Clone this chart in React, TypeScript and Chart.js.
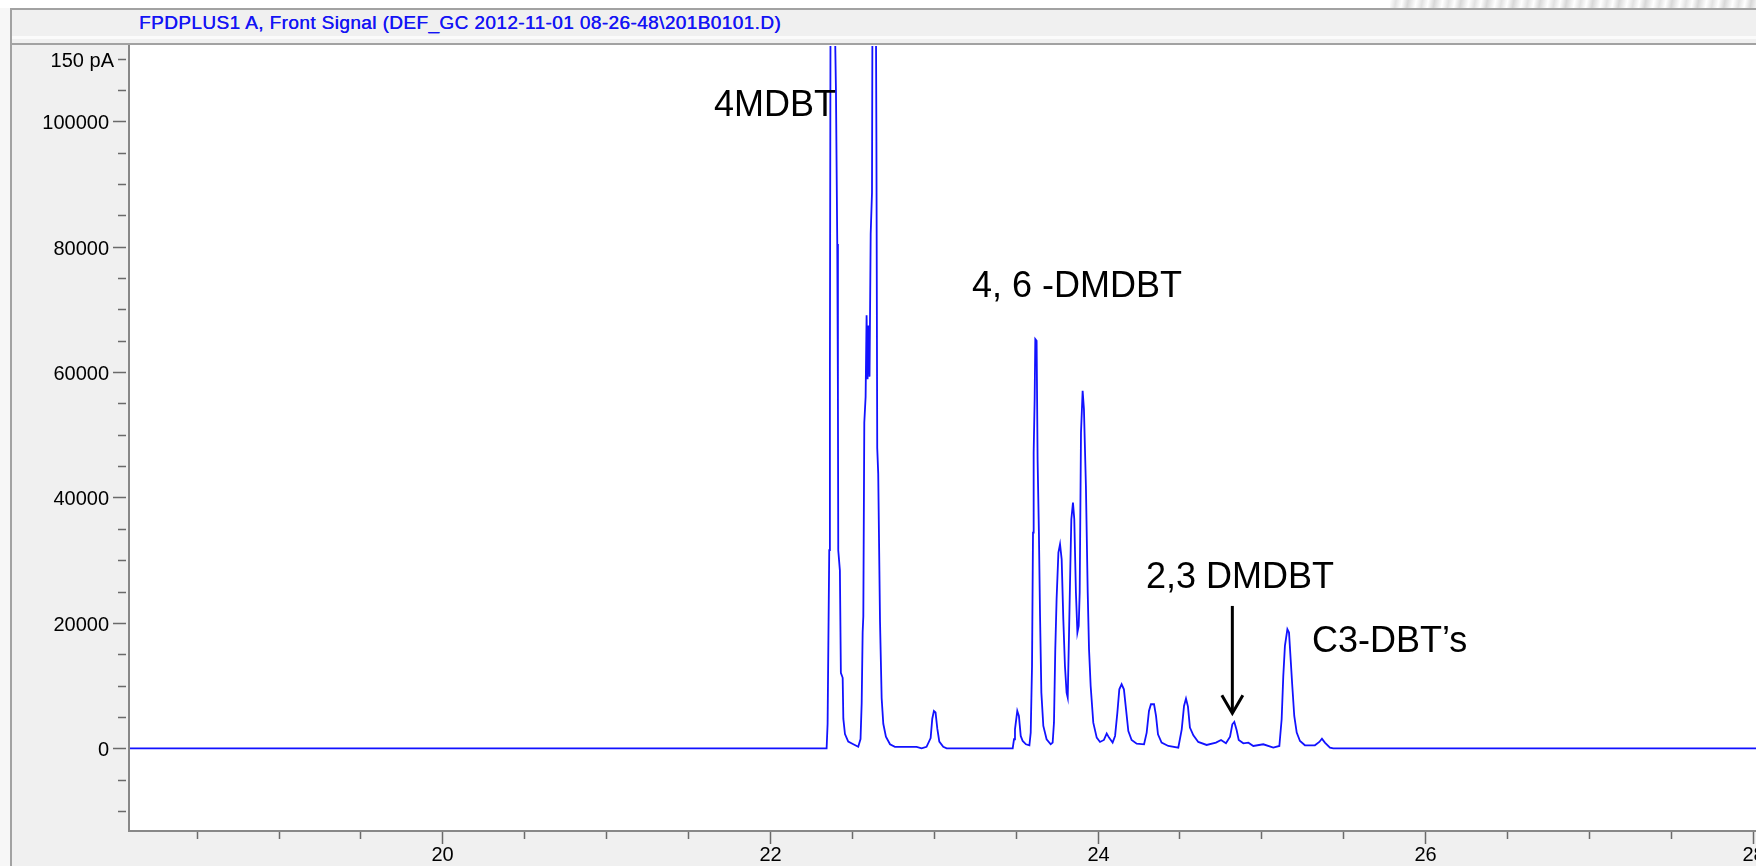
import React, { useEffect, useRef } from "react";
import { Chart, registerables } from "chart.js";

Chart.register(...registerables);

// Retention time (min) and detector signal
const retentionTimes = [
  18.0, 22.346, 22.352, 22.362, 22.366, 22.37, 22.383, 22.394, 22.403, 22.411,
  22.415, 22.417, 22.427, 22.433, 22.444, 22.448, 22.458, 22.478, 22.509, 22.539,
  22.553, 22.56, 22.566, 22.57, 22.576, 22.584, 22.59, 22.596, 22.602, 22.608,
  22.615, 22.623, 22.627, 22.636, 22.645, 22.65, 22.655, 22.661, 22.672, 22.682,
  22.692, 22.708, 22.733, 22.763, 22.895, 22.926, 22.956, 22.981, 22.991, 23.001,
  23.011, 23.022, 23.034, 23.058, 23.079, 23.482, 23.49, 23.496, 23.51, 23.52,
  23.531, 23.543, 23.563, 23.584, 23.592, 23.6, 23.606, 23.61, 23.616, 23.62,
  23.628, 23.634, 23.642, 23.649, 23.657, 23.669, 23.689, 23.714, 23.726, 23.734,
  23.742, 23.75, 23.761, 23.771, 23.781, 23.791, 23.801, 23.811, 23.818, 23.826,
  23.834, 23.84, 23.85, 23.858, 23.868, 23.877, 23.885, 23.891, 23.899, 23.909,
  23.917, 23.929, 23.94, 23.948, 23.958, 23.974, 23.995, 24.015, 24.039, 24.056,
  24.07, 24.092, 24.107, 24.121, 24.133, 24.147, 24.161, 24.174, 24.188, 24.208,
  24.239, 24.284, 24.3, 24.314, 24.326, 24.345, 24.357, 24.369, 24.391, 24.432,
  24.493, 24.514, 24.528, 24.54, 24.552, 24.564, 24.585, 24.615, 24.666, 24.723,
  24.754, 24.784, 24.809, 24.823, 24.835, 24.849, 24.862, 24.89, 24.921, 24.951,
  25.012, 25.073, 25.11, 25.124, 25.134, 25.144, 25.159, 25.169, 25.179, 25.189,
  25.201, 25.216, 25.236, 25.266, 25.327, 25.354, 25.37, 25.388, 25.419, 25.439,
  28.1,
];
const signalValues = [
  0, 0, 3910, 31590, 60090, 120000, 300000, 120000, 104870, 80440,
  56020, 31590, 28330, 12050, 11240, 4720, 2280, 1060, 650, 240,
  1470, 7160, 18560, 21010, 51950, 56020, 69040, 58870, 67420, 59270,
  82070, 88590, 130000, 160000, 130000, 96730, 47870, 43800, 20190, 7980,
  3910, 1870, 650, 240, 240, 0, 240, 1630, 4720, 5940,
  5700, 3090, 1060, 240, 0, 0, 1440, 3030, 5960, 5160,
  1970, 1170, 640, 480, 2500, 13130, 34400, 47160, 55670, 65240,
  64970, 46100, 34400, 21110, 8880, 3560, 1440, 640, 900, 4090,
  15790, 23770, 31210, 32540, 30150, 20580, 13130, 8880, 8080, 18450,
  29080, 36530, 39190, 36530, 24830, 18450, 19510, 24830, 50350, 57000,
  54070, 41840, 24830, 15790, 9940, 4090, 1700, 1010, 1330, 2340,
  1700, 900, 1970, 5690, 9410, 10210, 9410, 6220, 2760, 1330,
  740, 640, 2500, 5960, 7020, 7020, 5160, 2230, 900, 370,
  110, 3030, 6750, 7920, 6650, 3300, 2070, 1010, 530, 900,
  1330, 800, 1860, 3830, 4200, 2920, 1330, 800, 900, 370,
  640, 110, 370, 4630, 11540, 16320, 18980, 18450, 14200, 9940,
  5160, 2500, 1170, 480, 480, 1010, 1540, 900, 110, 0,
  0,
];

const xTickValues = [18.5, 19, 19.5, 20, 20.5, 21, 21.5, 22, 22.5, 23, 23.5, 24, 24.5, 25, 25.5, 26, 26.5, 27, 27.5, 28];
const xMajorTicks = [20, 22, 24, 26, 28];
const xTickLabels = ["20", "22", "24", "26", "28"];

const yTickValues = [-10000, -5000, 0, 5000, 10000, 15000, 20000, 25000, 30000, 35000, 40000, 45000, 50000, 55000, 60000, 65000, 70000, 75000, 80000, 85000, 90000, 95000, 100000, 105000, 110000];
const yMajorTicks = [0, 20000, 40000, 60000, 80000, 100000];
const yTickLabels = ["0", "20000", "40000", "60000", "80000", "100000"];
const yUnitTick = 110000;
const yUnitLabel = "150 pA";

const xMin = 18.093;
const xMax = 28.02;
const yMin = -13190;
const yMax = 112000;

const peakLabels = ["4MDBT", "4, 6 -DMDBT", "2,3 DMDBT", "C3-DBT\u2019s"];
const peakLabelX = [21.658, 23.233, 24.296, 25.309];
const peakLabelY = [100850, 72000, 25570, 15360];

const arrowX = 24.823;
const arrowFromY = 22700;
const arrowToY = 5580;

const TICK_FONT = '20px "Liberation Sans", Arial, sans-serif';
const LABEL_FONT = '36px "Liberation Sans", Arial, sans-serif';

const axesPlugin = {
  id: "chemstationAxes",
  afterDatasetsDraw(chart: any) {
    const { ctx, chartArea: a, scales } = chart;
    const xs = scales.x;
    const ys = scales.y;
    ctx.save();

    // axis lines
    ctx.strokeStyle = "#888888";
    ctx.lineWidth = 2;
    ctx.beginPath();
    ctx.moveTo(a.left - 1, a.top - 1);
    ctx.lineTo(a.left - 1, a.bottom);
    ctx.lineTo(a.right, a.bottom);
    ctx.stroke();

    // y ticks
    ctx.strokeStyle = "#6a6a6a";
    ctx.lineWidth = 1.5;
    ctx.font = TICK_FONT;
    ctx.fillStyle = "#000000";
    ctx.textAlign = "right";
    ctx.textBaseline = "alphabetic";
    yTickValues.forEach((v) => {
      const py = Math.round(ys.getPixelForValue(v)) + 0.5;
      const idx = yMajorTicks.indexOf(v);
      const start = idx >= 0 ? a.left - 17 : a.left - 12;
      ctx.beginPath();
      ctx.moveTo(start, py);
      ctx.lineTo(a.left - 4, py);
      ctx.stroke();
      if (idx >= 0) ctx.fillText(yTickLabels[idx], start - 4, py + 7);
      if (v === yUnitTick) ctx.fillText(yUnitLabel, start - 4, py + 7);
    });

    // x ticks
    ctx.textAlign = "center";
    xTickValues.forEach((t) => {
      const px = Math.round(xs.getPixelForValue(t)) + 0.5;
      const idx = xMajorTicks.indexOf(t);
      const len = idx >= 0 ? 12 : 7;
      ctx.beginPath();
      ctx.moveTo(px, a.bottom + 1);
      ctx.lineTo(px, a.bottom + 1 + len);
      ctx.stroke();
      if (idx >= 0) ctx.fillText(xTickLabels[idx], px, a.bottom + 30);
    });

    // peak annotations
    ctx.fillStyle = "#000000";
    ctx.font = LABEL_FONT;
    ctx.textAlign = "left";
    ctx.textBaseline = "alphabetic";
    peakLabels.forEach((lbl, i) => {
      ctx.fillText(lbl, xs.getPixelForValue(peakLabelX[i]), ys.getPixelForValue(peakLabelY[i]));
    });

    // arrow
    const ax = xs.getPixelForValue(arrowX);
    const ay0 = ys.getPixelForValue(arrowFromY);
    const ay1 = ys.getPixelForValue(arrowToY);
    ctx.strokeStyle = "#000000";
    ctx.lineWidth = 3;
    ctx.beginPath();
    ctx.moveTo(ax, ay0);
    ctx.lineTo(ax, ay1 - 1);
    ctx.stroke();
    ctx.lineJoin = "miter";
    ctx.beginPath();
    ctx.moveTo(ax - 10.5, ay1 - 18);
    ctx.lineTo(ax, ay1);
    ctx.lineTo(ax + 10.5, ay1 - 18);
    ctx.stroke();

    ctx.restore();
  },
};

export default function App() {
  const canvasRef = useRef<HTMLCanvasElement | null>(null);

  useEffect(() => {
    document.body.style.margin = "0";
    const canvas = canvasRef.current;
    if (!canvas) return;
    const points = retentionTimes.map((t, i) => ({ x: t, y: signalValues[i] }));
    const chart = new Chart(canvas, {
      type: "line",
      data: {
        datasets: [
          {
            data: points,
            borderColor: "#1212ff",
            borderWidth: 1.8,
            pointRadius: 0,
            tension: 0,
            fill: false,
            clip: 0,
          } as any,
        ],
      },
      options: {
        responsive: false,
        animation: false,
        devicePixelRatio: 1,
        parsing: false,
        normalized: true,
        layout: { padding: { left: 130, top: 46, right: 0, bottom: 35 } },
        plugins: { legend: { display: false }, tooltip: { enabled: false }, title: { display: false } },
        scales: {
          x: { type: "linear", min: xMin, max: xMax, display: false },
          y: { type: "linear", min: yMin, max: yMax, display: false },
        },
      } as any,
      plugins: [axesPlugin],
    });
    return () => chart.destroy();
  }, []);

  return (
    <div
      style={{
        position: "fixed",
        left: 0,
        top: 0,
        width: 1756,
        height: 866,
        overflow: "hidden",
        background: "#f0f0f0",
      }}
    >
      {/* slide strip above the window */}
      <div style={{ position: "absolute", left: 0, top: 0, width: 1756, height: 8, background: "#ffffff" }} />
      <div
        style={{
          position: "absolute",
          left: 1390,
          top: 0,
          width: 366,
          height: 8,
          background:
            "repeating-linear-gradient(100deg, #ffffff 0px, #e2e2e2 6px, #ffffff 12px, #d8d8d8 18px, #ffffff 26px)",
        }}
      />
      <div style={{ position: "absolute", left: 0, top: 8, width: 10, height: 858, background: "#f7f7f7" }} />
      {/* window frame lines */}
      <div style={{ position: "absolute", left: 10, top: 8, width: 1746, height: 2, background: "#a2a2a2" }} />
      <div style={{ position: "absolute", left: 10, top: 8, width: 2, height: 858, background: "#a2a2a2" }} />
      <div style={{ position: "absolute", left: 12, top: 36, width: 1744, height: 3, background: "#fbfbfb" }} />
      <div style={{ position: "absolute", left: 12, top: 43, width: 1744, height: 2, background: "#a2a2a2" }} />
      {/* plot background */}
      <div style={{ position: "absolute", left: 130, top: 45, width: 1626, height: 786, background: "#ffffff" }} />
      {/* signal title */}
      <div
        style={{
          position: "absolute",
          left: 139,
          top: 11,
          height: 24,
          lineHeight: "24px",
          fontFamily: '"Liberation Sans", Arial, sans-serif',
          fontSize: 19,
          letterSpacing: "0.4px",
          color: "#1414f5",
          textShadow: "0.35px 0 0 #1414f5",
          whiteSpace: "nowrap",
        }}
      >
        {"FPDPLUS1 A, Front Signal (DEF_GC 2012-11-01 08-26-48\\201B0101.D)"}
      </div>
      <canvas
        ref={canvasRef}
        width={1756}
        height={866}
        style={{ position: "absolute", left: 0, top: 0, width: 1756, height: 866 }}
      />
    </div>
  );
}
